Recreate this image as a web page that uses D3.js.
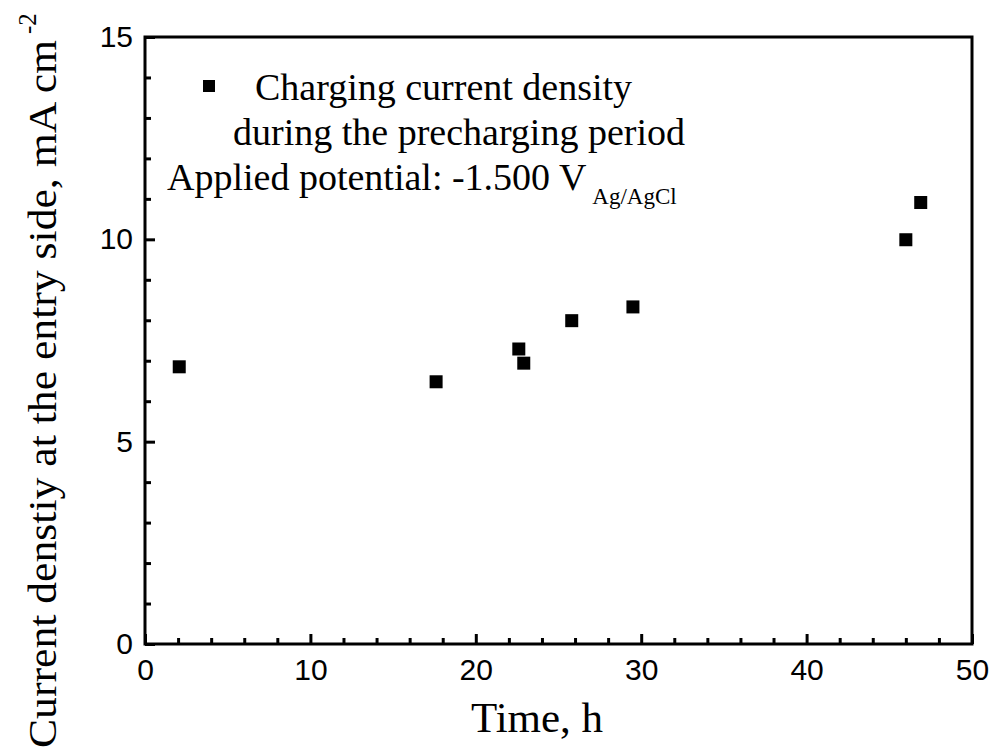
<!DOCTYPE html>
<html>
<head>
<meta charset="utf-8">
<script src="https://cdn.jsdelivr.net/npm/d3@7"></script>
<style>
  body { margin: 0; background: #fff; }
  svg { display: block; }
</style>
</head>
<body>
<svg id="chart" width="993" height="753"></svg>
<script>
// Data
const timeH = [2.07, 17.6, 22.6, 22.9, 25.8, 29.5, 46.0, 46.9];
const currentDensity = [6.85, 6.48, 7.29, 6.94, 7.99, 8.33, 9.99, 10.91];
const xMajorTicks = [0, 10, 20, 30, 40, 50];
const yMajorTicks = [0, 5, 10, 15];

const margin = { top: 37, right: 21, bottom: 109, left: 145 };
const width = 993 - margin.left - margin.right;
const height = 753 - margin.top - margin.bottom;

const svg = d3.select("#chart");
const g = svg.append("g")
    .attr("transform", `translate(${margin.left},${margin.top})`);

const x = d3.scaleLinear().domain([0, 50]).range([0, width]);
const y = d3.scaleLinear().domain([0, 15]).range([height, 0]);

// Minor ticks (inward)
g.append("g")
    .attr("transform", `translate(0,${height})`)
    .call(d3.axisBottom(x).tickValues(d3.range(0, 51, 2).filter(v => v % 10 !== 0))
        .tickSizeInner(-6).tickSizeOuter(0).tickFormat(""))
    .call(a => a.select(".domain").remove())
    .call(a => a.selectAll("line").attr("stroke-width", 3));

g.append("g")
    .call(d3.axisLeft(y).tickValues(d3.range(0, 16, 1).filter(v => v % 5 !== 0))
        .tickSizeInner(-6).tickSizeOuter(0).tickFormat(""))
    .call(a => a.select(".domain").remove())
    .call(a => a.selectAll("line").attr("stroke-width", 3));

// Major ticks
g.append("g")
    .attr("transform", `translate(0,${height})`)
    .call(d3.axisBottom(x).tickValues(xMajorTicks).tickSizeInner(-10).tickSizeOuter(0).tickPadding(15))
    .call(a => a.select(".domain").remove())
    .call(a => a.selectAll("line").attr("stroke-width", 3))
    .call(a => a.selectAll("text")
        .attr("font-family", "Liberation Sans, Arial, sans-serif")
        .attr("font-size", 30).attr("fill", "#000"));

g.append("g")
    .call(d3.axisLeft(y).tickValues(yMajorTicks).tickSizeInner(-10).tickSizeOuter(0).tickPadding(12))
    .call(a => a.select(".domain").remove())
    .call(a => a.selectAll("line").attr("stroke-width", 3))
    .call(a => a.selectAll("text")
        .attr("font-family", "Liberation Sans, Arial, sans-serif")
        .attr("font-size", 30).attr("fill", "#000"));

// Frame
g.append("rect")
    .attr("width", width).attr("height", height)
    .attr("fill", "none").attr("stroke", "#000").attr("stroke-width", 3);

// Points
const sq = 13;
g.selectAll("rect.pt")
    .data(timeH.map((t, i) => [t, currentDensity[i]]))
    .join("rect")
    .attr("class", "pt")
    .attr("x", d => x(d[0]) - sq / 2)
    .attr("y", d => y(d[1]) - sq / 2)
    .attr("width", sq).attr("height", sq)
    .attr("fill", "#000");

// Legend
const serif = "Liberation Serif, Times New Roman, serif";
svg.append("rect")
    .attr("x", 203).attr("y", 80).attr("width", 12).attr("height", 12)
    .attr("fill", "#000");

const legendText = svg.append("g")
    .attr("font-family", serif).attr("font-size", 38).attr("fill", "#000");
legendText.append("text").attr("x", 255).attr("y", 100).text("Charging current density");
legendText.append("text").attr("x", 233).attr("y", 145).text("during the precharging period");
const pot = legendText.append("text").attr("x", 167).attr("y", 190);
pot.append("tspan").text("Applied potential: -1.500 V");
pot.append("tspan").attr("font-size", 23).attr("dx", 6).attr("dy", 14).text("Ag/AgCl");

// Axis titles
svg.append("text")
    .attr("x", 537).attr("y", 732)
    .attr("text-anchor", "middle")
    .attr("font-family", serif).attr("font-size", 43)
    .text("Time, h");

// y title is stretched along its length in the original
const yTitle = svg.append("g")
    .attr("transform", "translate(56,748) rotate(-90)")
    .attr("font-family", serif);
yTitle.append("text")
    .attr("x", 0).attr("y", 0)
    .attr("font-size", 41)
    .attr("textLength", 708).attr("lengthAdjust", "spacingAndGlyphs")
    .text("Current denstiy at the entry side, mA cm");
yTitle.append("text")
    .attr("x", 714).attr("y", -20)
    .attr("font-size", 25)
    .text("-2");
</script>
</body>
</html>
